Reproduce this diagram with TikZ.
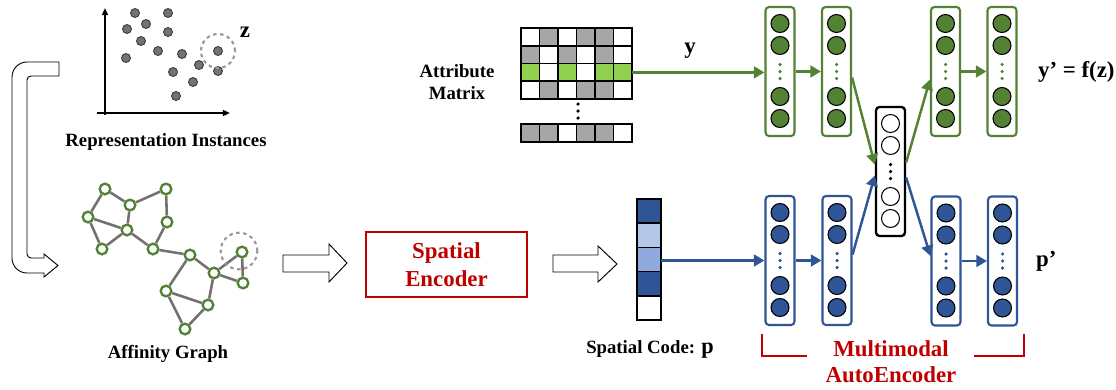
\documentclass[tikz,border=0pt]{standalone}
\usepackage{fontspec}
\setmainfont{Liberation Serif}
\usetikzlibrary{arrows.meta,calc}

\definecolor{netgreen}{HTML}{548235}
\definecolor{cellgreen}{HTML}{92D050}
\definecolor{cellgray}{HTML}{A6A6A6}
\definecolor{netblue}{HTML}{2F5597}
\definecolor{lightblue}{HTML}{B4C7E7}
\definecolor{midblue}{HTML}{8FAADC}
\definecolor{darkred}{HTML}{C00000}
\definecolor{edgegray}{HTML}{767171}

\tikzset{
  label/.style={font=\fontsize{16}{19}\selectfont\bfseries, align=center},
  biglabel/.style={font=\fontsize{19.5}{22}\selectfont\bfseries, align=center},
  hollow/.style={draw=black, fill=white, line width=0.8pt},
  cell/.style={draw=black, line width=1.4pt},
  gnode/.style={circle, draw=netgreen, fill=white, line width=2pt, minimum size=0.32cm, inner sep=0pt},
  gedge/.style={draw=edgegray, line width=2.2pt},
  col/.style={draw, rounded corners=3pt, line width=1.8pt, minimum width=0.87cm, minimum height=3.87cm, fill=white},
  neuron/.style={circle, draw=black, line width=0.9pt, minimum size=0.54cm, inner sep=0pt},
  garrow/.style={draw=netgreen, line width=2.1pt, -{Triangle[length=9pt,width=10pt]}},
  barrow/.style={draw=netblue, line width=2.1pt, -{Triangle[length=9pt,width=10pt]}},
}

% neurons of one column: center, fill, colour of the dots
\newcommand{\neurons}[3]{%
  \foreach \dy in {-48,-26,25,47}
    \node[neuron, fill=#2] at ($(#1)+(0,\dy)$) {};
  \foreach \dy in {-7,0,7}
    \fill[#3] ($(#1)+(0,\dy)$) circle (1.5pt);
}

\begin{document}
\begin{tikzpicture}[x=0.03cm, y=-0.03cm]
  \useasboundingbox (0,0) rectangle (1116,389);

  % representation instances
  \draw[line width=1.6pt, -{Triangle[length=6pt,width=5pt]}] (105,115) -- (105,8);
  \draw[line width=1.6pt, -{Triangle[length=6pt,width=5pt]}] (97,113) -- (230,113);
  \foreach \x/\y in {135/13, 168/13, 127/29, 146/24, 168/32, 141/41, 158/51, 182/54,
                     126/58, 173/72, 199/65, 218/51, 218/71, 193/82, 176/96}
    \draw[fill=black!55, draw=black!80, line width=0.7pt] (\x,\y) circle (0.135cm);
  \draw[dashed, draw=black!40, line width=1.8pt] (218,51) circle (0.51cm);
  \node[biglabel] (zlab) at (245,32) {z};
  \node[label] (reptext) at (166,142) {Representation Instances};

  % bent arrow
  \draw[hollow] (59,62) -- (27,62) arc[start angle=90, end angle=180, radius=0.45cm]
    -- (12,258) arc[start angle=180, end angle=270, radius=0.45cm]
    -- (44,273) -- (44,277) -- (58,265.5) -- (44,254) -- (44,258)
    -- (31,258) arc[start angle=270, end angle=180, radius=0.12cm]
    -- (27,80) arc[start angle=180, end angle=90, radius=0.12cm]
    -- (59,76) -- cycle;

  % affinity graph
  \foreach \n/\x/\y in {1/105/189, 2/130/205, 3/166/189, 4/88/217, 5/127/230,
                        6/167/222, 7/102/249, 8/153/249, 9/190/255, 10/214/273,
                        11/242/252, 12/243/283, 13/166/291, 14/208/305, 15/185/329}
    \node[gnode] (n\n) at (\x,\y) {};
  \foreach \a/\b in {1/2, 1/4, 2/3, 3/6, 2/5, 4/5, 4/7, 7/5, 5/8, 6/8, 8/9, 9/10,
                     9/13, 10/11, 10/12, 11/12, 10/14, 13/14, 13/15, 15/14}
    \draw[gedge] (n\a) -- (n\b);
  \draw[dashed, draw=black!40, line width=1.8pt] (239,251) circle (0.55cm);
  \node[label] (graphtext) at (168,354) {Affinity Graph};

  \draw[hollow] (283,255) -- (329,255) -- (329,244) -- (347,263) -- (329,282) -- (329,272) -- (283,272) -- cycle;

  % spatial encoder
  \node[draw=darkred, line width=1.8pt, minimum width=4.83cm, minimum height=1.95cm,
        text=darkred, font=\fontsize{19.5}{24}\selectfont\bfseries, align=center]
        (encoder) at (446.5,264.5) {Spatial\\Encoder};

  \draw[hollow] (553,255) -- (598,255) -- (598,246) -- (617,264) -- (598,282) -- (598,272) -- (553,272) -- cycle;

  % spatial code
  \foreach \c [count=\i from 0] in {netblue, lightblue, midblue, netblue, white}
    \draw[cell, fill=\c] (637,199+\i*24.2) rectangle ++(24,24.2);
  \coordinate (pcode) at (661,260.5);
  \node[label] (codetext) at (650,349) {Spatial Code: \fontsize{19}{19}\selectfont p};

  % attribute matrix
  \foreach \c [count=\i from 0] in {white,cellgray,white,cellgray,cellgray,white}
    \draw[cell, fill=\c] (521+\i*18.5,28) rectangle ++(18.5,17.75);
  \foreach \c [count=\i from 0] in {cellgray,white,cellgray,white,cellgray,white}
    \draw[cell, fill=\c] (521+\i*18.5,45.75) rectangle ++(18.5,17.75);
  \foreach \c [count=\i from 0] in {cellgreen,white,cellgreen,white,cellgreen,cellgreen}
    \draw[cell, fill=\c] (521+\i*18.5,63.5) rectangle ++(18.5,17.75);
  \foreach \c [count=\i from 0] in {white,cellgray,white,cellgray,cellgray,white}
    \draw[cell, fill=\c] (521+\i*18.5,81.25) rectangle ++(18.5,17.75);
  \foreach \c [count=\i from 0] in {cellgray,cellgray,white,cellgray,cellgray,white}
    \draw[cell, fill=\c] (521+\i*18.5,124) rectangle ++(18.5,18);
  \foreach \y in {104,111,118}
    \fill (578,\y) circle (1.5pt);
  \coordinate (yrow) at (632,72.4);
  \node[label] (mattext) at (457,82) {Attribute\\Matrix};

  % autoencoder columns
  \node[col, draw=netgreen] (g1) at (780,71.5) {};
  \node[col, draw=netgreen] (g2) at (836.5,71.5) {};
  \node[col, draw=netgreen] (g3) at (945.5,71.5) {};
  \node[col, draw=netgreen] (g4) at (1002,71.5) {};
  \node[col, draw=netblue] (b1) at (780,260.5) {};
  \node[col, draw=netblue] (b2) at (837,260.5) {};
  \node[col, draw=netblue] (b3) at (946,261) {};
  \node[col, draw=netblue] (b4) at (1002.5,261) {};
  \node[col, draw=black, line width=2pt] (lat) at (890.5,171.5) {};
  \foreach \g in {g1,g2,g3,g4} {\neurons{\g}{netgreen}{netgreen}}
  \foreach \b in {b1,b2,b3,b4} {\neurons{\b}{netblue}{netblue}}
  \neurons{lat}{white}{black}

  \draw[garrow] (yrow) -- (yrow -| g1.west);
  \node[biglabel] (ylab) at (690,51) {y};
  \draw[garrow] (g1.east) -- (g2.west);
  \draw[garrow] ($(g2.east)+(0,6)$) -- ($(lat.west)+(0,-7)$);
  \draw[garrow] ($(lat.east)+(0,-9)$) -- ($(g3.west)+(0,8)$);
  \draw[garrow] (g3.east) -- (g4.west);
  \draw[barrow] (pcode) -- (pcode -| b1.west);
  \draw[barrow] (b1.east) -- (b2.west);
  \draw[barrow] ($(b2.east)+(0,-6)$) -- ($(lat.west)+(0,4)$);
  \draw[barrow] ($(lat.east)+(0,6)$) -- ($(b3.west)+(0,-5)$);
  \draw[barrow] (b3.east) -- (b4.west);

  \node[biglabel, anchor=west] (ytext) at (1034,72) {y’ = f(z)};
  \node[biglabel, anchor=west] (ptext) at (1032,261) {p’};

  % bracket
  \draw[darkred, line width=2pt] (762,334) -- (762,356) -- (807,356);
  \draw[darkred, line width=2pt] (974,356) -- (1024,356) -- (1024,334);
  \node[biglabel, text=darkred] (aetext) at (891,362) {Multimodal\\AutoEncoder};
\end{tikzpicture}
\end{document}
